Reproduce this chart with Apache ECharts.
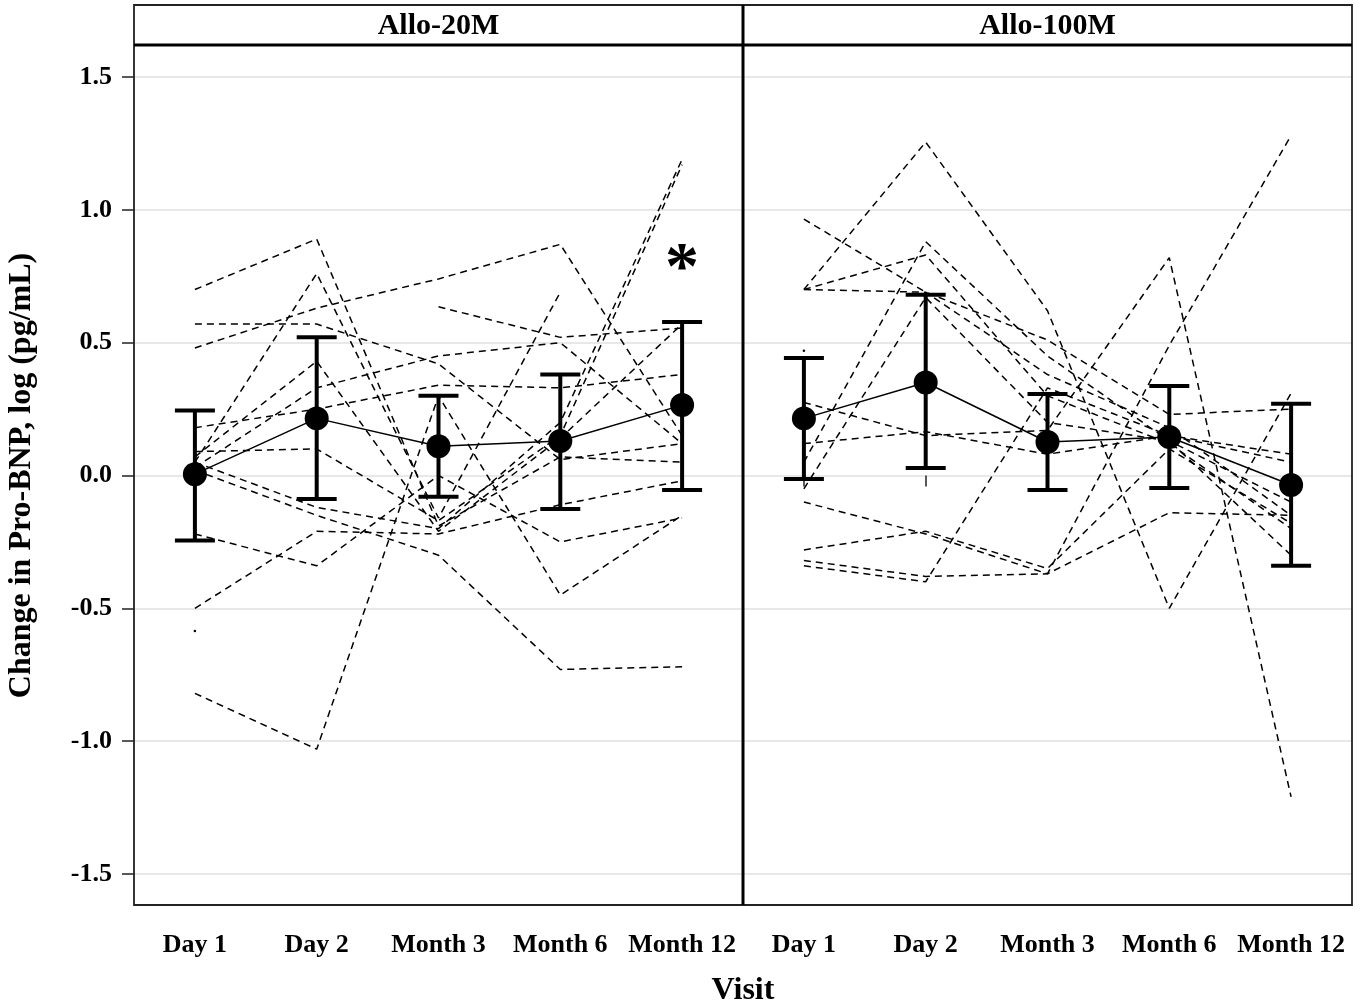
<!DOCTYPE html>
<html>
<head>
<meta charset="utf-8">
<script src="https://cdn.jsdelivr.net/npm/echarts@6/dist/echarts.min.js"></script>
<style>
  html, body { margin: 0; padding: 0; background: #fff; }
  #chart { width: 1365px; height: 1007px; }
</style>
</head>
<body>
<div id="chart"></div>
<script>
// Visits on the x axis
const visits = ['Day 1', 'Day 2', 'Month 3', 'Month 6', 'Month 12'];
const panels = ['Allo-20M', 'Allo-100M'];
const yTicks = [-1.5, -1.0, -0.5, 0.0, 0.5, 1.0, 1.5];

// Group means and 95% CI limits per visit
const mean20 = [0.005, 0.215, 0.11, 0.13, 0.265];
const lower20 = [-0.245, -0.088, -0.08, -0.126, -0.055];
const upper20 = [0.245, 0.52, 0.30, 0.38, 0.578];
const sig20 = ['', '', '', '', '*'];

const mean100 = [0.215, 0.35, 0.126, 0.145, -0.036];
const lower100 = [-0.013, 0.028, -0.055, -0.047, -0.34];
const upper100 = [0.442, 0.68, 0.307, 0.337, 0.27];
const sig100 = ['', '', '', '', ''];

// Individual subject profiles, Allo-20M
const subj20 = [
  [0.70, 0.89, -0.19, 0.07, 0.05],
  [0.57, 0.57, 0.42, 0.06, 0.12],
  [0.48, 0.63, 0.74, 0.87, 0.15],
  [0.18, 0.25, 0.34, 0.33, 0.38],
  [0.05, 0.76, -0.16, 0.69, null],
  [0.07, 0.43, -0.21, 0.14, 0.57],
  [0.03, 0.33, 0.45, 0.50, 0.12],
  [0.02, -0.15, -0.30, -0.73, -0.72],
  [-0.22, -0.34, 0.00, -0.25, -0.16],
  [-0.50, -0.21, -0.22, -0.11, -0.02],
  [-0.585, null, null, null, null],
  [-0.82, -1.03, 0.30, -0.45, -0.15],
  [null, null, 0.635, 0.52, 0.555],
  [0.05, -0.12, -0.20, 0.20, 1.19],
  [0.09, 0.10, -0.17, 0.15, 1.17]
];

// Individual subject profiles, Allo-100M
const subj100 = [
  [0.70, 1.255, 0.62, -0.50, 0.31],
  [0.965, 0.69, 0.51, 0.23, 0.25],
  [0.70, 0.69, 0.38, 0.18, -0.15],
  [0.70, 0.83, 0.30, 0.12, -0.20],
  [0.05, 0.88, 0.45, 0.13, -0.10],
  [-0.05, 0.67, 0.20, 0.13, -0.30],
  [0.275, 0.15, 0.17, 0.82, -1.21],
  [0.12, 0.165, 0.08, 0.15, 0.05],
  [-0.10, -0.22, -0.37, 0.49, 1.28],
  [-0.28, -0.21, -0.35, 0.10, -0.18],
  [-0.32, -0.38, -0.37, -0.14, -0.15],
  [-0.34, -0.40, 0.33, 0.15, 0.08],
  [0.47, null, null, null, null]
];

const FONT = '"Liberation Serif", "Times New Roman", serif';
const chart = echarts.init(document.getElementById('chart'), null, { renderer: 'canvas' });

// frame geometry (pixels)
const FRAME = { left: 134, right: 1352, top: 5, header: 45, bottom: 905, split: 743 };
const plotTop = 77, plotBottom = 874;

function subjectSeries(rows, idx) {
  return rows.map((r, i) => ({
    type: 'line',
    name: 'subj' + idx + '_' + i,
    xAxisIndex: idx, yAxisIndex: idx,
    data: r,
    connectNulls: false,
    showSymbol: r.filter(v => v !== null).length === 1,
    symbol: 'circle', symbolSize: 2.5,
    itemStyle: { color: '#000' },
    lineStyle: { color: '#000', width: 1.5, type: [7, 5] },
    silent: true, z: 2,
    animation: false
  }));
}

function errorSeries(lo, hi, sig, idx) {
  return {
    type: 'custom',
    xAxisIndex: idx, yAxisIndex: idx,
    data: visits.map((v, i) => [i, lo[i], hi[i]]),
    encode: { x: 0, y: [1, 2] },
    z: 5, silent: true, animation: false,
    renderItem(params, api) {
      const i = api.value(0);
      const top = api.coord([i, api.value(2)]);
      const bot = api.coord([i, api.value(1)]);
      const half = 20;
      const st = { stroke: '#000', lineWidth: 4 };
      const children = [
        { type: 'line', shape: { x1: top[0], y1: top[1], x2: bot[0], y2: bot[1] }, style: st },
        { type: 'line', shape: { x1: top[0] - half, y1: top[1], x2: top[0] + half, y2: top[1] }, style: st },
        { type: 'line', shape: { x1: bot[0] - half, y1: bot[1], x2: bot[0] + half, y2: bot[1] }, style: st }
      ];
      const s = sig[params.dataIndex];
      if (s) {
        children.push({
          type: 'text',
          style: { text: s, x: top[0], y: top[1] - 52, align: 'center', verticalAlign: 'middle',
                   font: 'bold 68px ' + FONT, fill: '#000' }
        });
      }
      return { type: 'group', children };
    }
  };
}

function meanSeries(m, idx) {
  return {
    type: 'line', xAxisIndex: idx, yAxisIndex: idx, data: m,
    symbol: 'circle', symbolSize: 24, showSymbol: true,
    itemStyle: { color: '#000' },
    lineStyle: { color: '#000', width: 1.5 },
    z: 6, silent: true, animation: false
  };
}

const gridW = FRAME.split - FRAME.left;
const option = {
  backgroundColor: '#fff',
  animation: false,
  grid: [
    { left: FRAME.left, width: gridW, top: plotTop, bottom: 1007 - plotBottom, containLabel: false },
    { left: FRAME.split, width: FRAME.right - FRAME.split, top: plotTop, bottom: 1007 - plotBottom, containLabel: false }
  ],
  xAxis: [0, 1].map(g => ({
    type: 'category', gridIndex: g, data: visits, boundaryGap: true,
    offset: FRAME.bottom - plotBottom,
    axisLine: { show: false },
    axisTick: { show: true, alignWithLabel: true, length: 11, lineStyle: { color: '#222', width: 1.5 } },
    axisLabel: { color: '#000', fontFamily: FONT, fontWeight: 'bold', fontSize: 26, margin: 27, interval: 0 },
    splitLine: { show: false }
  })),
  yAxis: [0, 1].map(g => ({
    type: 'value', gridIndex: g, min: yTicks[0], max: yTicks[yTicks.length - 1], interval: 0.5,
    name: g === 0 ? 'Change in Pro-BNP, log (pg/mL)' : '',
    nameLocation: 'middle', nameGap: 96,
    nameTextStyle: { color: '#000', fontFamily: FONT, fontWeight: 'bold', fontSize: 32 },
    axisLine: { show: false },
    axisTick: { show: g === 0, length: 12, lineStyle: { color: '#222', width: 1.5 } },
    axisLabel: { show: g === 0, color: '#000', fontFamily: FONT, fontWeight: 'bold', fontSize: 26, margin: 22,
                 formatter: v => v.toFixed(1) },
    splitLine: { show: true, lineStyle: { color: '#e8e8e8', width: 2 } }
  })),
  series: [
    ...subjectSeries(subj20, 0),
    ...subjectSeries(subj100, 1),
    errorSeries(lower20, upper20, sig20, 0),
    errorSeries(lower100, upper100, sig100, 1),
    meanSeries(mean20, 0),
    meanSeries(mean100, 1)
  ],
  graphic: [
    { type: 'rect', silent: true, z: 10,
      shape: { x: FRAME.left, y: FRAME.top, width: FRAME.right - FRAME.left, height: FRAME.bottom - FRAME.top },
      style: { fill: 'none', stroke: '#222', lineWidth: 1.8 } },
    { type: 'line', silent: true, z: 10,
      shape: { x1: FRAME.left, y1: FRAME.header, x2: FRAME.right, y2: FRAME.header },
      style: { stroke: '#000', lineWidth: 3 } },
    { type: 'line', silent: true, z: 10,
      shape: { x1: FRAME.split, y1: FRAME.top, x2: FRAME.split, y2: FRAME.bottom },
      style: { stroke: '#000', lineWidth: 3 } },
    { type: 'text', silent: true, z: 10,
      style: { text: panels[0], x: (FRAME.left + FRAME.split) / 2, y: 26, align: 'center', verticalAlign: 'middle',
               font: 'bold 30px ' + FONT, fill: '#000' } },
    { type: 'text', silent: true, z: 10,
      style: { text: panels[1], x: (FRAME.split + FRAME.right) / 2, y: 26, align: 'center', verticalAlign: 'middle',
               font: 'bold 30px ' + FONT, fill: '#000' } },
    { type: 'text', silent: true, z: 10,
      style: { text: 'Visit', x: FRAME.split, y: 991, align: 'center', verticalAlign: 'middle',
               font: 'bold 32px ' + FONT, fill: '#000' } }
  ]
};
chart.setOption(option);
</script>
</body>
</html>
